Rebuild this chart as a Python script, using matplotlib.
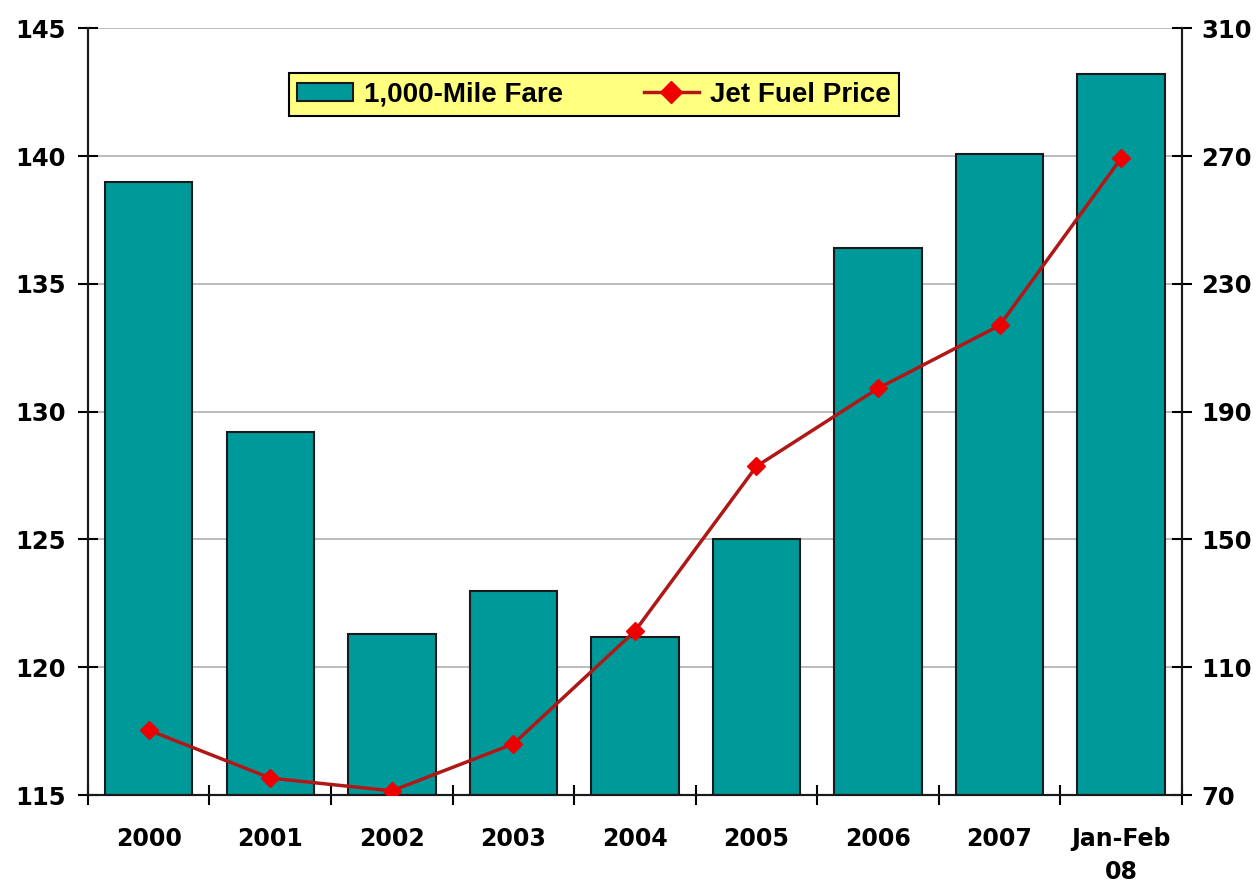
import numpy as np
import matplotlib.pyplot as plt

plt.rcParams['font.family'] = ['DejaVu Sans']

years = ["2000", "2001", "2002", "2003", "2004", "2005", "2006", "2007", "Jan-Feb\n08"]
fare = [139.0, 129.2, 121.3, 123.0, 121.2, 125.0, 136.4, 140.1, 143.2]
fuel = [90.3, 75.3, 71.3, 86.0, 121.3, 172.9, 197.3, 217.0, 269.3]

fig = plt.figure(figsize=(12.6, 8.86), dpi=100)
ax = fig.add_axes([0.0698, 0.1027, 0.8682, 0.8653])
ax2 = ax.twinx()

x = np.arange(len(years))
bars = ax.bar(x, [f - 115 for f in fare], bottom=115, width=0.72,
              color="#009999", edgecolor="#1a1a1a", linewidth=1.5, zorder=2)

line, = ax2.plot(x, fuel, color="#B01818", linewidth=2.5,
                 marker="D", markersize=9, markerfacecolor="#EE0000",
                 markeredgecolor="#EE0000", zorder=3)

ax.set_xlim(-0.5, len(years) - 0.5)
ax.set_ylim(115, 145)
ax2.set_ylim(70, 310)
ax.set_yticks([115, 120, 125, 130, 135, 140, 145])
ax2.set_yticks([70, 110, 150, 190, 230, 270, 310])

ax.yaxis.grid(True, color="#b0b0b0", linewidth=1.2, zorder=0)
ax.set_axisbelow(True)

# category labels centered, tick marks between categories
ax.set_xticks(x)
ax.set_xticklabels(years, fontsize=17, fontweight="bold", linespacing=1.5)
ax.set_xticks(np.arange(-0.5, len(years)), minor=True)
ax.tick_params(axis="x", which="major", length=0, pad=23)
ax.tick_params(axis="x", which="minor", direction="inout", length=14, width=1.5)

ax.tick_params(axis="y", direction="inout", length=14, width=1.5, labelsize=17.5, pad=9)
ax2.tick_params(axis="y", direction="inout", length=14, width=1.5, labelsize=17.5, pad=7)
for lbl in ax.get_yticklabels() + ax2.get_yticklabels():
    lbl.set_fontweight("bold")

for a in (ax, ax2):
    a.spines["top"].set_visible(False)
    for s in ("left", "right", "bottom"):
        a.spines[s].set_linewidth(1.5)
        a.spines[s].set_color("#1a1a1a")

ax2.set_zorder(ax.get_zorder() + 1)
ax2.patch.set_visible(False)

leg = ax2.legend([bars, line], ["1,000-Mile Fare", "Jet Fuel Price"],
                 loc="upper left", bbox_to_anchor=(0.1837, 0.9413), ncol=2,
                 prop={"family": "Liberation Sans", "weight": "bold", "size": 20},
                 frameon=True, fancybox=False, handlelength=2.0, handleheight=0.65,
                 handletextpad=0.4, columnspacing=2.9, borderpad=0.3,
                 borderaxespad=0, markerscale=1.3)
leg.get_frame().set_facecolor("#FFFF80")
leg.get_frame().set_edgecolor("black")
leg.get_frame().set_linewidth(1.5)
leg.get_frame().set_alpha(1)

fig.savefig("out.png", dpi=100)
